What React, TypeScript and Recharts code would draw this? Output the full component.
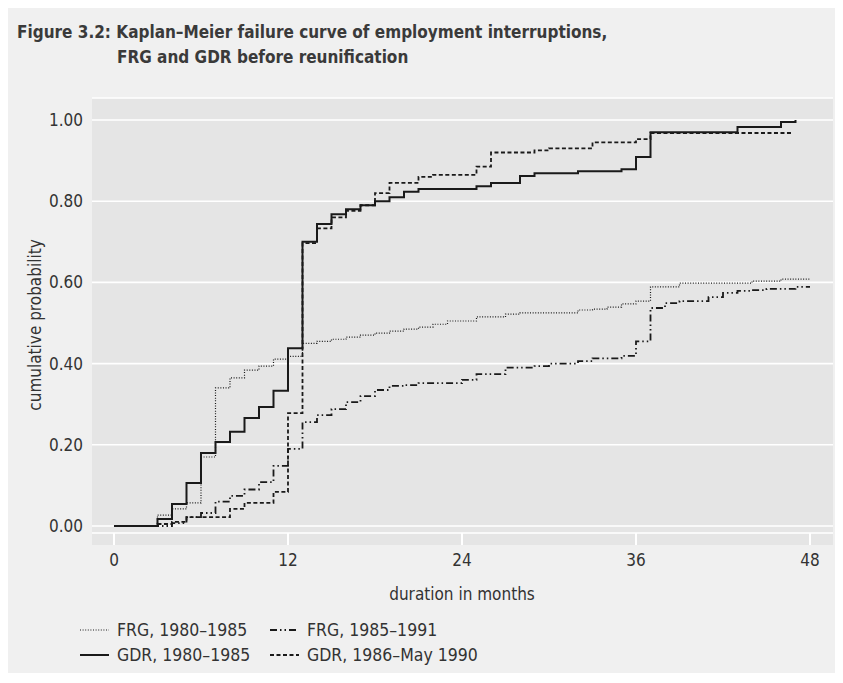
import React from "react";
import { LineChart, Line, XAxis, YAxis, CartesianGrid } from "recharts";

// months at which each curve steps, and the cumulative probability after the step
const frg8085Months = [0, 3, 4, 5, 6, 7, 8, 9, 10, 11, 12, 13, 14, 15, 16, 17, 18, 19, 20, 21, 22, 23, 25, 27, 28, 32, 33, 34, 35, 36, 37, 39, 44, 46, 48];
const frg8085Prob = [0, 0.027, 0.042, 0.057, 0.17, 0.34, 0.365, 0.384, 0.394, 0.411, 0.418, 0.45, 0.455, 0.46, 0.465, 0.47, 0.475, 0.48, 0.485, 0.49, 0.497, 0.505, 0.515, 0.522, 0.525, 0.532, 0.534, 0.539, 0.547, 0.554, 0.589, 0.598, 0.603, 0.608, 0.608];

const frg8591Months = [0, 4, 5, 6, 7, 8, 9, 10, 11, 12, 13, 14, 15, 16, 17, 18, 19, 20, 21, 24, 25, 27, 29, 30, 32, 33, 35, 36, 37, 38, 39, 41, 42, 43, 44, 45, 47, 48];
const frg8591Prob = [0, 0.007, 0.022, 0.032, 0.06, 0.074, 0.09, 0.108, 0.148, 0.19, 0.256, 0.273, 0.288, 0.305, 0.32, 0.335, 0.345, 0.347, 0.352, 0.36, 0.374, 0.39, 0.394, 0.4, 0.406, 0.413, 0.419, 0.455, 0.537, 0.549, 0.554, 0.564, 0.574, 0.579, 0.581, 0.584, 0.589, 0.589];

const gdr8085Months = [0, 3, 4, 5, 6, 7, 8, 9, 10, 11, 12, 13, 14, 15, 16, 17, 18, 19, 20, 21, 25, 26, 28, 29, 32, 35, 36, 37, 43, 46, 47];
const gdr8085Prob = [0, 0.017, 0.054, 0.106, 0.18, 0.207, 0.232, 0.266, 0.293, 0.333, 0.438, 0.7, 0.744, 0.768, 0.78, 0.79, 0.8, 0.81, 0.823, 0.83, 0.837, 0.845, 0.862, 0.869, 0.874, 0.879, 0.909, 0.97, 0.983, 0.995, 1.0];

const gdr8690Months = [0, 3, 4, 5, 8, 9, 11, 12, 13, 14, 15, 16, 17, 18, 19, 21, 22, 25, 26, 29, 30, 33, 36, 37, 46.8];
const gdr8690Prob = [0, 0.005, 0.01, 0.022, 0.042, 0.057, 0.084, 0.278, 0.697, 0.733, 0.76, 0.776, 0.79, 0.82, 0.845, 0.86, 0.865, 0.885, 0.92, 0.925, 0.93, 0.945, 0.953, 0.968, 0.968];

const monthTicks = [0, 12, 24, 36, 48];
const probTicks = [0, 0.2, 0.4, 0.6, 0.8, 1];

const toPoints = (months: number[], probs: number[]) =>
  months.map((m, i) => ({ m, p: probs[i] }));

const FONT = "'Liberation Sans Narrow', 'DejaVu Sans Condensed', 'Liberation Sans', sans-serif";
const INK = "#1a1a1a";

const series = [
  { key: "frg8085", label: "FRG, 1980\u20131985", data: toPoints(frg8085Months, frg8085Prob), dash: "1 1.6", width: 1.2 },
  { key: "frg8591", label: "FRG, 1985\u20131991", data: toPoints(frg8591Months, frg8591Prob), dash: "7 3 1.5 3 1.5 3", width: 1.8 },
  { key: "gdr8085", label: "GDR, 1980\u20131985", data: toPoints(gdr8085Months, gdr8085Prob), dash: undefined, width: 2 },
  { key: "gdr8690", label: "GDR, 1986\u2013May 1990", data: toPoints(gdr8690Months, gdr8690Prob), dash: "4 2.5", width: 1.8 },
];

const LegendItem = ({ s, x, y }: { s: (typeof series)[number]; x: number; y: number }) => (
  <div style={{ position: "absolute", left: x, top: y - 11, height: 22, display: "flex", alignItems: "center" }}>
    <svg width={29} height={6} style={{ marginRight: 8 }}>
      <line x1={0} y1={3} x2={29} y2={3} stroke={INK} strokeWidth={s.width} strokeDasharray={s.dash} />
    </svg>
    <span style={{ fontSize: 17.5, color: "#333" }}>{s.label}</span>
  </div>
);

export default function App() {
  return (
    <div style={{ position: "relative", width: 835, height: 673, marginBottom: -8, background: "#f0f0f0", fontFamily: FONT }}>
      <div style={{ position: "absolute", left: 9, top: 12, fontSize: 17, lineHeight: "25px", fontWeight: 700, color: "#3a3a3a" }}>
        <div>Figure 3.2: Kaplan–Meier failure curve of employment interruptions,</div>
        <div style={{ paddingLeft: 100 }}>FRG and GDR before reunification</div>
      </div>

      <div style={{ position: "absolute", left: 84, top: 90, width: 741, height: 447, background: "#e5e5e5" }} />

      <div style={{ position: "absolute", left: 0, top: 0 }}>
        <LineChart width={835} height={667} margin={{ top: 90, right: 10, bottom: 102, left: 0 }}>
          <CartesianGrid horizontal vertical={false} stroke="#ffffff" strokeWidth={1.6} />
          <XAxis
            dataKey="m"
            type="number"
            domain={[-1.517, 49.586]}
            ticks={monthTicks}
            interval={0}
            allowDataOverflow
            height={40}
            axisLine={false}
            tickSize={12}
            tickMargin={9}
            tickLine={{ stroke: "#ffffff", strokeWidth: 2 }}
            tick={{ fill: "#333", fontSize: 17, fontFamily: FONT }}
          />
          <YAxis
            type="number"
            domain={[-0.0172, 1.0542]}
            ticks={probTicks}
            interval={0}
            allowDataOverflow
            width={84}
            axisLine={false}
            tickLine={false}
            tickSize={0}
            tickMargin={9}
            tickFormatter={(v: number) => v.toFixed(2)}
            tick={{ fill: "#333", fontSize: 17, fontFamily: FONT }}
          />
          {series.map((s) => (
            <Line
              key={s.key}
              data={s.data}
              dataKey="p"
              type="stepAfter"
              stroke={INK}
              strokeWidth={s.width}
              strokeDasharray={s.dash}
              dot={false}
              activeDot={false}
              isAnimationActive={false}
            />
          ))}
        </LineChart>
      </div>

      <div style={{ position: "absolute", left: 27, top: 317, transform: "translate(-50%, -50%) rotate(-90deg)", fontSize: 17, color: "#333", whiteSpace: "nowrap" }}>
        cumulative probability
      </div>
      <div style={{ position: "absolute", left: 454, top: 586, transform: "translate(-50%, -50%)", fontSize: 17, color: "#333", whiteSpace: "nowrap" }}>
        duration in months
      </div>

      <LegendItem s={series[0]} x={72} y={622} />
      <LegendItem s={series[1]} x={262} y={622} />
      <LegendItem s={series[2]} x={72} y={647} />
      <LegendItem s={series[3]} x={262} y={647} />
    </div>
  );
}
